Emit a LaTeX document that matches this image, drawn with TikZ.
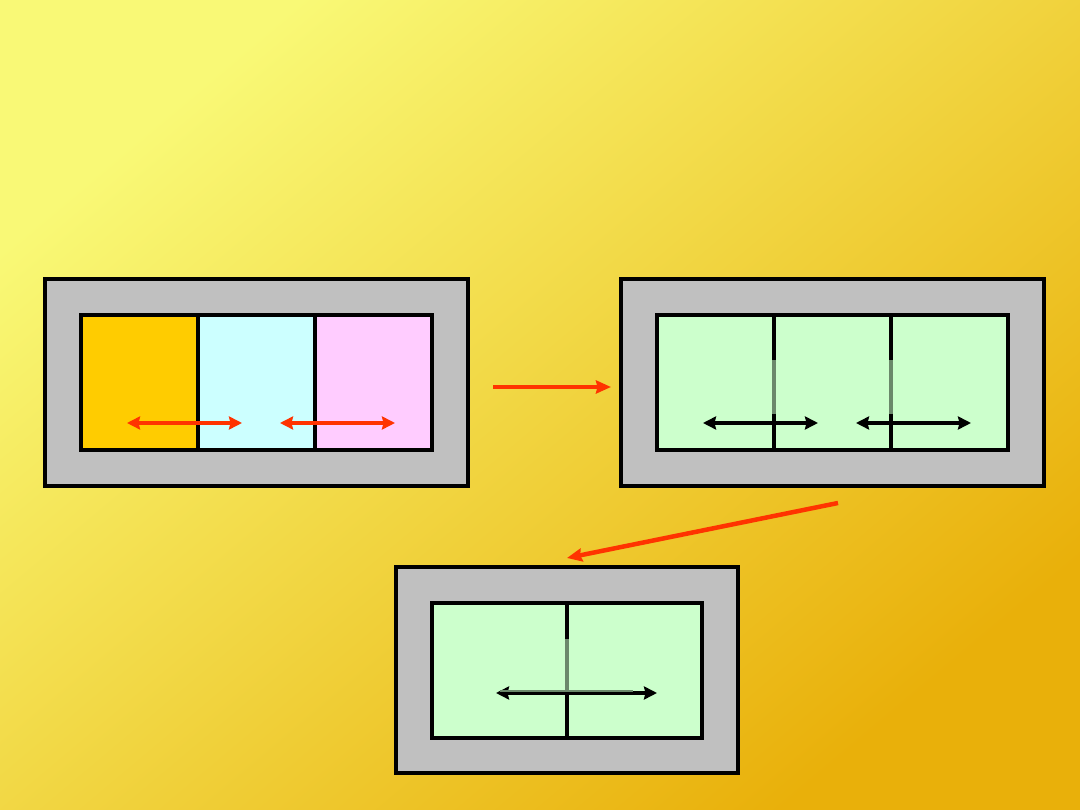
\documentclass[tikz,border=0pt]{standalone}
\usetikzlibrary{arrows.meta}

\definecolor{bgtop}{HTML}{F9F976}
\definecolor{bgbottom}{HTML}{E9B00A}
\definecolor{framegrey}{HTML}{C0C0C0}
\definecolor{cellorange}{HTML}{FFCC00}
\definecolor{cellcyan}{HTML}{CCFFFF}
\definecolor{cellpink}{HTML}{FFCCFF}
\definecolor{cellgreen}{HTML}{CCFFCC}
\definecolor{arrowred}{HTML}{FF3300}
\definecolor{fadedline}{HTML}{6B886B}

\begin{document}
\begin{tikzpicture}[x=0.02cm, y=-0.02cm,
    frame/.style={draw=black, line width=0.08cm},
    wall/.style={black, line width=0.08cm},
    redarrow/.style={arrowred, line width=0.09cm,
	{Stealth[length=0.26cm,width=0.26cm,inset=0.03cm]}-{Stealth[length=0.26cm,width=0.26cm,inset=0.03cm]}},
    blackarrow/.style={black, line width=0.075cm,
	{Stealth[length=0.26cm,width=0.26cm,inset=0.03cm]}-{Stealth[length=0.26cm,width=0.26cm,inset=0.03cm]}},
    flow/.style={arrowred, line width=0.09cm, -{Stealth[length=0.3cm,width=0.26cm,inset=0.03cm]}}]
    \useasboundingbox (0, 0) rectangle (1080, 810);
    \shade[top color=bgtop, bottom color=bgbottom, shading angle=40]
	(0, 0) rectangle (1080, 810);

    % first box: three separate cells
    \draw[frame, fill=framegrey] (45, 279) rectangle (468, 486);
    \fill[cellorange] (81, 315) rectangle (198, 450);
    \fill[cellcyan] (198, 315) rectangle (315, 450);
    \fill[cellpink] (315, 315) rectangle (432, 450);
    \draw[frame] (81, 315) rectangle (432, 450);
    \foreach \x in {198, 315}
	\draw[wall] (\x, 315) -- (\x, 450);
    \draw[redarrow] (127, 423) -- (242, 423);
    \draw[redarrow] (280, 423) -- (395, 423);

    \coordinate (a1) at (493, 387);
    \coordinate (a2) at (611, 387);
    \draw[flow] (a1) -- (a2);

    % second box: cells become one
    \draw[frame, fill=framegrey] (621, 279) rectangle (1044, 486);
    \draw[frame, fill=cellgreen] (657, 315) rectangle (1008, 450);
    \draw[blackarrow] (703, 423) -- (818, 423);
    \draw[blackarrow] (856, 423) -- (971, 423);
    \foreach \x in {774, 891} {
	\draw[wall] (\x, 315) -- (\x, 360);
	\draw[fadedline, line width=0.08cm] (\x, 360) -- (\x, 414);
	\draw[wall] (\x, 414) -- (\x, 450);
    }

    \coordinate (b1) at (838, 503);
    \coordinate (b2) at (567, 558);
    \draw[flow] (b1) -- (b2);

    % third box
    \draw[frame, fill=framegrey] (396, 567) rectangle (738, 773);
    \draw[frame, fill=cellgreen] (432, 603) rectangle (702, 738);
    \draw[blackarrow] (496, 693) -- (657, 693);
    \draw[fadedline, line width=0.04cm] (500, 691) -- (633, 691);
    \draw[wall] (567, 603) -- (567, 639);
    \draw[fadedline, line width=0.08cm] (567, 639) -- (567, 690);
    \draw[wall] (567, 695) -- (567, 738);
\end{tikzpicture}
\end{document}
